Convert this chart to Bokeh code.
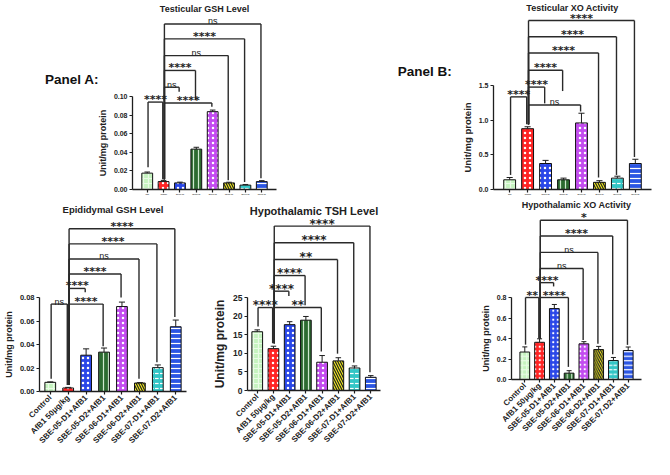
import math
from bokeh.plotting import figure
from bokeh.models import ColumnDataSource, FactorRange, Range1d, FixedTicker, Spacer
from bokeh.layouts import row, column
from bokeh.transform import dodge
from bokeh.core.properties import value
from bokeh.embed import file_html
from bokeh.resources import INLINE

# ------------------------------------------------------------------ data
groups = ["Control", "AfB1 50\u03bcg/kg", "SBE-05-D1+AfB1", "SBE-05-D2+AfB1",
          "SBE-06-D1+AfB1", "SBE-06-D2+AfB1", "SBE-07-D1+AfB1", "SBE-07-D2+AfB1"]
AF = "AfB1 50\u03bcg/kg"

# Testicular GSH Level
tgsh_mean = [0.0176, 0.0085, 0.0071, 0.0434, 0.0837, 0.0071, 0.0047, 0.0085]
tgsh_err = [0.0012, 0.0013, 0.0008, 0.0020, 0.0017, 0.0007, 0.0007, 0.0010]
tgsh_ticks = [0.00, 0.02, 0.04, 0.06, 0.08, 0.10]
tgsh_tick_labels = ["0.00", "0.02", "0.04", "0.06", "0.08", "0.10"]
tgsh_br_a = ["Control", AF, AF, AF, AF, AF, AF]
tgsh_br_b = [AF, "SBE-06-D1+AfB1", "SBE-05-D1+AfB1", "SBE-05-D2+AfB1",
             "SBE-06-D2+AfB1", "SBE-07-D1+AfB1", "SBE-07-D2+AfB1"]
tgsh_br_y = [0.094, 0.093, 0.110, 0.128, 0.144, 0.162, 0.178]
tgsh_br_a_end = [0.024, 0.011, 0.011, 0.011, 0.011, 0.011, 0.011]
tgsh_br_b_end = [0.011, 0.089, 0.105, 0.096, 0.010, 0.008, 0.012]
tgsh_br_txt = ["****", "****", "ns", "****", "ns", "****", "ns"]

# Testicular XO Activity
txo_mean = [0.14, 0.877, 0.375, 0.14, 0.96, 0.103, 0.164, 0.375]
txo_err = [0.033, 0.028, 0.045, 0.024, 0.14, 0.024, 0.028, 0.061]
txo_ticks = [0.0, 0.5, 1.0, 1.5]
txo_tick_labels = ["0.0", "0.5", "1.0", "1.5"]
txo_br_a = ["Control", AF, AF, AF, AF, AF, AF]
txo_br_b = [AF, "SBE-06-D1+AfB1", "SBE-05-D1+AfB1", "SBE-05-D2+AfB1",
            "SBE-06-D2+AfB1", "SBE-07-D1+AfB1", "SBE-07-D2+AfB1"]
txo_br_y = [1.336, 1.219, 1.477, 1.720, 1.969, 2.203, 2.437]
txo_br_a_end = [0.21, 0.94, 0.94, 0.94, 0.94, 0.94, 0.94]
txo_br_b_end = [0.94, 1.125, 1.242, 1.42, 0.173, 0.21, 0.469]
txo_br_txt = ["****", "ns", "****", "****", "****", "****", "****"]

# Epididymal GSH Level
egsh_mean = [0.0078, 0.0030, 0.0309, 0.0335, 0.0723, 0.0072, 0.0203, 0.0551]
egsh_err = [0.0004, 0.0005, 0.0054, 0.0035, 0.0038, 0.0004, 0.0023, 0.0057]
egsh_ticks = [0.00, 0.02, 0.04, 0.06, 0.08]
egsh_tick_labels = ["0.00", "0.02", "0.04", "0.06", "0.08"]
egsh_br_a = ["Control", AF, AF, AF, AF, AF, AF]
egsh_br_b = [AF, "SBE-05-D2+AfB1", "SBE-05-D1+AfB1", "SBE-06-D1+AfB1",
             "SBE-06-D2+AfB1", "SBE-07-D1+AfB1", "SBE-07-D2+AfB1"]
egsh_br_y = [0.0744, 0.0744, 0.0877, 0.100, 0.1128, 0.1256, 0.1385]
egsh_br_a_end = [0.0108, 0.0056, 0.0056, 0.0056, 0.0056, 0.0056, 0.0056]
egsh_br_b_end = [0.0056, 0.0385, 0.0844, 0.080, 0.0108, 0.0249, 0.0633]
egsh_br_txt = ["ns", "****", "****", "****", "ns", "****", "****"]

# Hypothalamic TSH Level
tsh_mean = [15.8, 11.25, 17.7, 18.9, 7.6, 7.96, 6.05, 3.55]
tsh_err = [0.5, 0.65, 0.8, 1.0, 1.8, 0.85, 0.55, 0.45]
tsh_ticks = [0, 5, 10, 15, 20, 25]
tsh_tick_labels = ["0", "5", "10", "15", "20", "25"]
tsh_br_a = ["Control", AF, AF, AF, AF, AF, AF]
tsh_br_b = [AF, "SBE-06-D1+AfB1", "SBE-05-D1+AfB1", "SBE-05-D2+AfB1",
            "SBE-06-D2+AfB1", "SBE-07-D1+AfB1", "SBE-07-D2+AfB1"]
tsh_br_y = [22.3, 22.3, 26.7, 30.9, 35.2, 39.7, 44.2]
tsh_br_a_end = [17.2, 12.7, 12.7, 12.7, 12.7, 12.7, 12.7]
tsh_br_b_end = [12.7, 10.5, 25.4, 22.9, 9.9, 7.5, 4.9]
tsh_br_txt = ["****", "**", "****", "****", "**", "****", "****"]

# Hypothalamic XO Activity
hxo_mean = [0.268, 0.363, 0.692, 0.062, 0.348, 0.292, 0.185, 0.283]
hxo_err = [0.05, 0.034, 0.04, 0.024, 0.021, 0.031, 0.03, 0.034]
hxo_ticks = [0.0, 0.2, 0.4, 0.6, 0.8]
hxo_tick_labels = ["0.0", "0.2", "0.4", "0.6", "0.8"]
hxo_br_a = ["Control", AF, AF, AF, AF, AF, AF]
hxo_br_b = [AF, "SBE-05-D2+AfB1", "SBE-05-D1+AfB1", "SBE-06-D1+AfB1",
            "SBE-06-D2+AfB1", "SBE-07-D1+AfB1", "SBE-07-D2+AfB1"]
hxo_br_y = [0.80, 0.80, 0.945, 1.083, 1.24, 1.40, 1.554]
hxo_br_a_end = [0.34, 0.40, 0.40, 0.40, 0.40, 0.40, 0.40]
hxo_br_b_end = [0.40, 0.123, 0.908, 0.385, 0.348, 0.246, 0.338]
hxo_br_txt = ["**", "****", "****", "ns", "ns", "****", "*"]

# ------------------------------------------------------------------ styles
bar_fill = ["#c5f3bf", "#ff2424", "#2a47e8", "#2c6b30", "#c34cf0", "#f4ee1e", "#33c6c6", "#2b55e3"]
bar_hatch = ["cross", "dot", "dot", "vertical_line", "dot", "left_diagonal_line",
             "horizontal_dash", "horizontal_line"]
bar_hatch_color = ["#e9fbe6", "white", "white", "#cfe8cf", "white", "#222222", "white", "white"]

FONT = "Liberation Sans"
STAR_FONT = "DejaVu Sans"
INK = "#1e1e1e"


def make_panel(title, mean, err, ticks, tick_labels, br_a, br_b, br_y, br_a_end,
               br_b_end, br_txt, cfg):
    W, H = cfg["size"]
    fl, fw, ft, fh = cfg["frame"]
    pad = cfg["pad"]
    ymin, ymax = ticks[0], ticks[-1]
    p = figure(width=W, height=H,
               x_range=FactorRange(factors=groups, range_padding=pad,
                                   range_padding_units="absolute"),
               y_range=Range1d(ymin, ymax),
               output_backend="svg", toolbar_location=None,
               min_border_left=fl, min_border_right=W - fl - fw,
               min_border_top=ft, min_border_bottom=H - ft - fh)
    p.outline_line_color = None
    p.xgrid.visible = False
    p.ygrid.visible = False
    p.background_fill_color = "white"
    p.border_fill_color = "white"

    def xs(sx):
        return -pad / 2 + (sx - fl) * (8 + pad) / fw

    def ys(sy):
        return ymax + (ft - sy) * (ymax - ymin) / fh

    # bars
    src = ColumnDataSource(dict(g=groups, m=mean, hi=[a + b for a, b in zip(mean, err)],
                                fill=bar_fill, hatch=bar_hatch, hc=bar_hatch_color))
    p.vbar(x="g", top="m", bottom=0, width=cfg["bw"], source=src, fill_color="fill",
           hatch_pattern="hatch", hatch_color="hc", hatch_scale=cfg["hs"], hatch_weight=1.2,
           line_color="#111111", line_width=1)
    p.segment(x0="g", y0="m", x1="g", y1="hi", source=src, line_color=INK, line_width=1)
    p.segment(x0=dodge("g", -0.17, range=p.x_range), y0="hi",
              x1=dodge("g", 0.17, range=p.x_range), y1="hi", source=src,
              line_color=INK, line_width=1)

    # significance brackets
    xa = [groups.index(g) + 0.5 + 0.05 for g in br_a]
    xb = [groups.index(g) + 0.5 - 0.05 for g in br_b]
    bsrc = ColumnDataSource(dict(xa=xa, xb=xb, y=br_y, ya=br_a_end, yb=br_b_end))
    for (x0, y0, x1, y1) in [("xa", "y", "xb", "y"), ("xa", "y", "xa", "ya"), ("xb", "y", "xb", "yb")]:
        p.segment(x0=x0, y0=y0, x1=x1, y1=y1, source=bsrc, line_color="#2a2a2a",
                  line_width=1.4, level="overlay")
    star = [i for i, t in enumerate(br_txt) if t != "ns"]
    ns = [i for i, t in enumerate(br_txt) if t == "ns"]
    for idx, font, style, size, off in [(star, STAR_FONT, "bold", cfg["sf"], -2.5),
                                        (ns, FONT, "normal", cfg["nf"], -2.5)]:
        if not idx:
            continue
        tsrc = ColumnDataSource(dict(x=[(xa[i] + xb[i]) / 2 for i in idx],
                                     y=[br_y[i] for i in idx], t=[br_txt[i] for i in idx]))
        p.text(x="x", y="y", text="t", source=tsrc, text_align="center",
               text_baseline="alphabetic", text_font=value(font), text_font_style=style,
               text_font_size=size, text_color="#222222", y_offset=off, level="overlay")

    # title and panel tag (text glyphs above the frame)
    p.text(x=[4], y=[ys(cfg["title_sy"])], text=[title], text_align="center",
           text_baseline="middle", text_font=value(FONT), text_font_style="bold",
           text_font_size=cfg["tf"], text_color="#222222", level="overlay")
    if "tag" in cfg:
        tx, ty, tt = cfg["tag"]
        p.text(x=[xs(tx)], y=[ys(ty)], text=[tt], text_align="left",
               text_baseline="middle", text_font=value(FONT), text_font_style="bold",
               text_font_size="13.5px", text_color="#111111", level="overlay")

    # axes
    for ax in (p.xaxis[0], p.yaxis[0]):
        ax.axis_line_width = 1.3
        ax.axis_line_color = INK
        ax.major_tick_line_width = 1.2
        ax.major_tick_line_color = INK
        ax.major_tick_out = 3
        ax.major_tick_in = 0
        ax.minor_tick_line_color = None
        ax.major_label_standoff = 2
    p.yaxis.ticker = FixedTicker(ticks=ticks)
    p.yaxis.major_label_overrides = {t: l for t, l in zip(ticks, tick_labels)}
    p.yaxis.major_label_text_font = FONT
    p.yaxis.major_label_text_font_style = "bold"
    p.yaxis.major_label_text_font_size = cfg["yf"]
    p.yaxis.major_label_text_color = "#222222"
    p.yaxis.axis_label = "Unit/mg protein"
    p.yaxis.axis_label_text_font = FONT
    p.yaxis.axis_label_text_font_style = "bold"
    p.yaxis.axis_label_text_font_size = cfg["af"]
    p.yaxis.axis_label_text_color = "#222222"
    p.yaxis.axis_label_standoff = 3
    p.xaxis.major_label_text_font = FONT
    p.xaxis.major_label_text_font_style = "bold"
    p.xaxis.major_label_text_color = "#222222"
    if cfg["xlabels"]:
        p.xaxis.major_label_orientation = math.pi / 4
        p.xaxis.major_label_text_font_size = cfg["xf"]
    else:
        p.xaxis.major_label_overrides = {g: "" for g in groups}
        p.xaxis.major_label_text_font_size = "1px"
    return p


cfg_tgsh = dict(size=(292, 200), frame=(132, 144, 96, 93), pad=0.4, bw=0.66, hs=5,
                title_sy=8.7, tf="9px", sf="11px", nf="9px", yf="7px", af="9px",
                xlabels=False, tag=(37, 79.2, "Panel A:"))
cfg_txo = dict(size=(362, 200), frame=(201, 158, 85, 104), pad=0.4, bw=0.66, hs=5,
               title_sy=7.1, tf="9px", sf="11px", nf="9px", yf="7px", af="9.5px",
               xlabels=False, tag=(97, 70.5, "Panel B:"))
cfg_egsh = dict(size=(210, 259), frame=(33, 153, 97, 94), pad=0.1, bw=0.6, hs=5,
                title_sy=9.3, tf="9.5px", sf="11px", nf="9px", yf="7.5px", af="9px",
                xlabels=True, xf="8px")
cfg_tsh = dict(size=(210, 259), frame=(33, 137, 97, 93), pad=0.1, bw=0.66, hs=5,
               title_sy=10.0, tf="11px", sf="12px", nf="10px", yf="8.5px", af="12px",
               xlabels=True, xf="8px")
cfg_hxo = dict(size=(234, 253), frame=(91, 130, 97, 82), pad=0.4, bw=0.66, hs=4.5,
               title_sy=4.8, tf="9px", sf="11px", nf="9px", yf="7px", af="9px",
               xlabels=True, xf="8px")

p1 = make_panel("Testicular GSH Level", tgsh_mean, tgsh_err, tgsh_ticks, tgsh_tick_labels,
                tgsh_br_a, tgsh_br_b, tgsh_br_y, tgsh_br_a_end, tgsh_br_b_end, tgsh_br_txt, cfg_tgsh)
p2 = make_panel("Testicular XO Activity", txo_mean, txo_err, txo_ticks, txo_tick_labels,
                txo_br_a, txo_br_b, txo_br_y, txo_br_a_end, txo_br_b_end, txo_br_txt, cfg_txo)
p3 = make_panel("Epididymal GSH Level", egsh_mean, egsh_err, egsh_ticks, egsh_tick_labels,
                egsh_br_a, egsh_br_b, egsh_br_y, egsh_br_a_end, egsh_br_b_end, egsh_br_txt, cfg_egsh)
p4 = make_panel("Hypothalamic TSH Level", tsh_mean, tsh_err, tsh_ticks, tsh_tick_labels,
                tsh_br_a, tsh_br_b, tsh_br_y, tsh_br_a_end, tsh_br_b_end, tsh_br_txt, cfg_tsh)
p5 = make_panel("Hypothalamic XO Activity", hxo_mean, hxo_err, hxo_ticks, hxo_tick_labels,
                hxo_br_a, hxo_br_b, hxo_br_y, hxo_br_a_end, hxo_br_b_end, hxo_br_txt, cfg_hxo)

top = row(column(p1), column(p2))
bottom = row(column(p3), column(p4), column(p5, Spacer(width=234, height=6)))
root = column(top, bottom)
open("out.html", "w").write(file_html(root, INLINE, title="Panels A and B"))
